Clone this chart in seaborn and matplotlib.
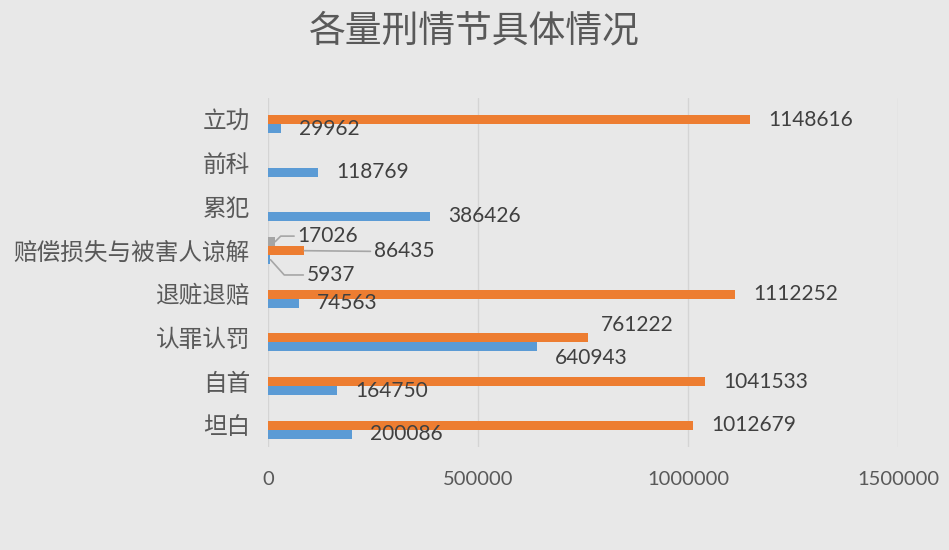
import pandas as pd
import matplotlib
matplotlib.use("Agg")
import matplotlib.pyplot as plt
import seaborn as sns

categories = ["立功", "前科", "累犯", "赔偿损失与被害人谅解", "退赃退赔", "认罪认罚", "自首", "坦白"]
blue_vals = [29962, 118769, 386426, 5937, 74563, 640943, 164750, 200086]
orange_vals = [1148616, 0, 0, 86435, 1112252, 761222, 1041533, 1012679]
gray_vals = [0, 0, 0, 17026, 0, 0, 0, 0]
series_names = ["系列3", "系列2", "系列1"]   # top -> bottom inside each group
xticks = [0, 500000, 1000000, 1500000]

bg = "#e8e8e8"
palette = {"系列3": "#a5a5a5", "系列2": "#ed7d31", "系列1": "#5b9bd5"}

rows = []
for i, c in enumerate(categories):
    rows.append({"cat": c, "series": "系列3", "value": gray_vals[i]})
    rows.append({"cat": c, "series": "系列2", "value": orange_vals[i]})
    rows.append({"cat": c, "series": "系列1", "value": blue_vals[i]})
df = pd.DataFrame(rows)

sns.set_theme(style="white")
plt.rcParams["font.family"] = ["Noto Sans CJK SC", "DejaVu Sans"]

fig = plt.figure(figsize=(9.49, 5.5), dpi=100, facecolor=bg)
ax = fig.add_axes([268 / 949, 1 - 447 / 550, 630 / 949, 349 / 550])
ax.set_facecolor(bg)

sns.barplot(data=df, x="value", y="cat", hue="series", order=categories,
            hue_order=series_names, palette=palette, orient="h",
            width=0.62, linewidth=0, saturation=1, legend=False, ax=ax)

ax.set_xlim(0, 1500000)
ax.set_xticks(xticks)
ax.set_xticklabels([str(t) for t in xticks], fontsize=14.5, color="#595959", family="Lato")
ax.tick_params(axis="x", length=0, pad=17)
ax.tick_params(axis="y", length=0, pad=13, labelsize=17, labelcolor="#595959")
ax.set_xlabel("")
ax.set_ylabel("")
ax.grid(axis="x", color="#d4d4d4", linewidth=1)
ax.set_axisbelow(True)
for s in ax.spines.values():
    s.set_visible(False)

label_style = dict(fontsize=15, color="#404040", family="Lato", va="center")
special = categories.index("赔偿损失与被害人谅解")
crowded = categories.index("认罪认罚")
crowded_off = {"系列2": (9.5, 9.5), "系列1": (13, -8)}

# normal data labels
for container, name in zip(ax.containers, series_names):
    for i, bar in enumerate(container):
        w = bar.get_width()
        yc = bar.get_y() + bar.get_height() / 2
        if w <= 0 or i == special:
            continue
        off = crowded_off[name] if i == crowded else (13, 0)
        ax.annotate(f"{int(w)}", xy=(w, yc), xytext=off,
                    textcoords="offset points", ha="left", **label_style)

# labels with leader lines for the smallest category
leader = dict(arrowstyle="-", color="#a6a6a6", lw=1.2, shrinkA=0, shrinkB=0,
              relpos=(0, 0.5))
offsets = {"系列3": ((16, 4), "angle,angleA=0,angleB=45"),
           "系列2": ((50, -0.5), "arc3"),
           "系列1": ((26, -11), "angle,angleA=0,angleB=-48")}
for container, name in zip(ax.containers, series_names):
    bar = container[special]
    w = bar.get_width()
    yc = bar.get_y() + bar.get_height() / 2
    off, conn = offsets[name]
    ax.annotate(f"{int(w)}", xy=(w, yc), xytext=off, textcoords="offset points",
                ha="left", arrowprops=dict(connectionstyle=conn, **leader),
                **label_style)

fig.text(0.5, 1 - 31 / 550, "各量刑情节具体情况", ha="center", va="center",
         fontsize=26.5, color="#595959")

fig.savefig("out.png", dpi=100, facecolor=bg)
